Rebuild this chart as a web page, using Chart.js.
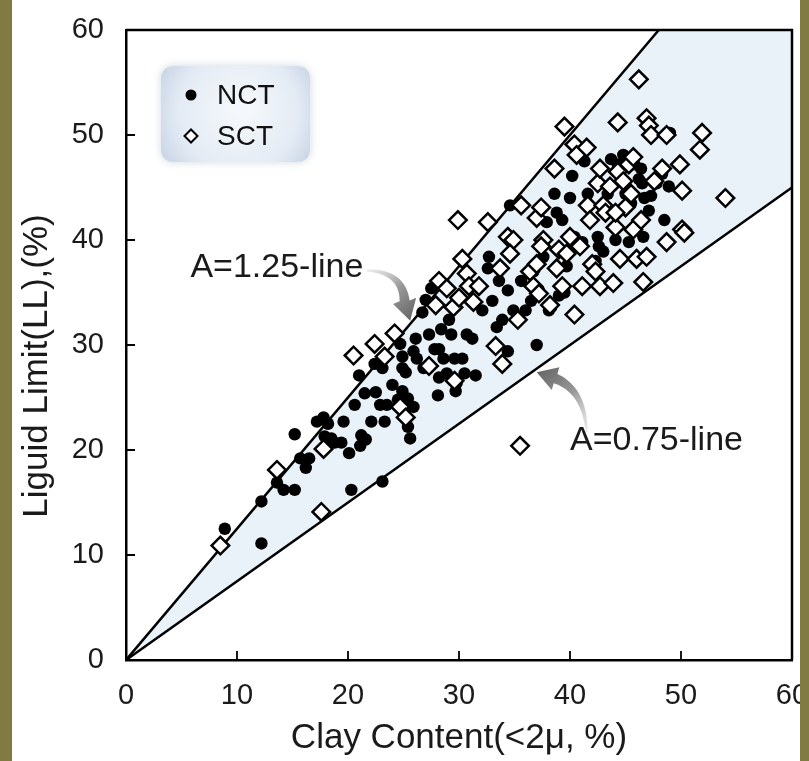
<!DOCTYPE html>
<html><head><meta charset="utf-8">
<script src="https://cdn.jsdelivr.net/npm/chart.js@4.4.1/dist/chart.umd.min.js"></script>
<style>
html,body{margin:0;padding:0;width:809px;height:761px;overflow:hidden;background:#807b42;}
#panel{position:absolute;left:12px;top:0;width:788px;height:761px;background:#ffffff;}
#c{position:absolute;left:0;top:0;width:809px;height:761px;}
#edgeR{position:absolute;left:800px;top:0;width:9px;height:761px;background:#807b42;}
#edgeL{position:absolute;left:0;top:0;width:12px;height:761px;background:#807b42;}
</style></head><body>
<div id="panel"></div>
<canvas id="c" width="809" height="761"></canvas>
<div id="edgeL"></div><div id="edgeR"></div>
<script>
// ---- data ----
const xTicks = [0, 10, 20, 30, 40, 50, 60];
const yTicks = [0, 10, 20, 30, 40, 50, 60];
const seriesNames = ['NCT', 'SCT'];
const lineLabels = ['A=1.25-line', 'A=0.75-line'];
const lineSlopes = [1.25, 0.75];
const xTitle = 'Clay Content(<2μ, %)';
const yTitle = 'Liguid Limit(LL),(%)';

const nctX = [8.9,12.2,12.2,13.6,14.2,15.2,15.2,15.7,16.2,16.5,
  17.2,17.8,17.9,18.2,18.5,18.8,19.4,19.6,20.1,20.3,
  20.6,21.0,21.2,21.6,21.1,21.5,22.1,22.4,22.5,23.1,
  23.3,23.1,22.9,23.5,24.0,24.7,24.9,24.5,24.9,25.2,
  25.4,25.6,25.9,25.4,24.9,25.9,26.1,26.7,27.0,27.3,
  27.5,27.8,26.2,26.8,28.1,28.2,28.2,28.4,28.6,28.9,
  29.1,29.3,29.6,29.7,29.8,30.3,30.7,31.2,30.5,31.5,
  32.1,32.6,32.7,33.0,33.4,33.9,33.6,34.4,34.4,34.6,
  34.9,35.3,35.6,36.0,36.5,37.0,36.7,37.2,37.6,37.9,
  38.1,38.3,38.6,38.8,39.0,39.3,39.5,39.7,40.0,40.2,
  40.4,41.1,41.3,41.6,42.3,42.5,42.6,43.0,43.4,43.7,
  43.9,44.1,44.3,44.8,45.0,45.3,45.5,45.8,46.2,46.4,
  46.6,46.7,47.1,47.8,48.3,48.5,48.9,49.0,46.5,47.3];
const nctY = [12.5,11.1,15.1,16.9,16.2,16.2,21.5,19.2,18.3,19.2,
  22.7,23.1,21.3,22.5,21.1,20.7,20.7,22.7,19.7,16.2,
  24.3,27.1,21.4,21.0,20.4,25.4,22.7,28.2,25.5,27.8,
  22.7,17.0,24.3,24.3,26.2,30.1,27.8,24.8,25.6,27.4,
  22.2,21.1,24.1,24.9,28.9,29.4,30.6,33.1,34.3,31.0,
  35.4,29.6,28.7,27.8,25.2,26.9,29.6,31.5,28.7,27.3,
  32.4,31.0,28.7,25.6,26.4,28.7,31.0,30.6,27.3,27.1,
  33.3,37.3,38.4,34.2,31.7,32.4,36.1,35.2,29.4,43.3,
  33.3,32.4,36.1,33.3,34.2,30.0,37.0,35.2,38.4,41.7,
  33.3,33.6,44.4,42.6,34.7,41.9,35.0,37.5,44.0,46.1,
  40.3,39.8,47.5,44.4,38.0,40.3,39.4,38.9,44.4,47.7,
  42.6,40.0,47.2,48.1,44.4,39.8,43.5,47.2,45.8,46.8,
  40.3,44.0,42.8,45.4,46.3,41.9,45.1,50.2,45.4,44.2];

const sctX = [8.5,13.6,17.6,17.8,20.5,22.4,23.3,24.2,24.7,25.2,
  27.3,27.9,28.2,28.9,29.5,29.6,29.9,30.3,30.0,30.7,
  30.9,31.3,31.8,32.6,33.3,33.9,34.4,34.9,34.6,33.7,
  35.6,35.3,35.5,36.4,36.7,37.0,37.2,37.0,37.4,37.6,
  37.4,38.2,38.6,38.8,39.0,39.3,39.5,39.7,40.0,40.4,
  40.4,40.6,40.9,41.1,41.5,41.6,41.8,42.0,42.3,42.5,
  42.7,42.7,43.0,43.2,43.6,43.9,44.1,44.3,44.3,44.5,
  45.0,45.3,45.5,45.7,46.0,46.2,46.4,46.6,46.9,46.9,
  47.1,47.3,47.6,48.3,48.7,48.7,49.9,50.1,50.1,50.3,
  51.7,51.9,54.0,44.1,45.7,44.8];
const sctY = [10.9,18.1,14.1,20.1,29.0,30.1,28.9,31.1,24.1,23.1,
  28.0,33.8,36.1,35.4,33.6,26.6,41.9,38.2,34.5,36.8,
  35.6,34.1,35.6,41.7,29.9,28.2,40.3,40.0,38.7,37.3,
  43.3,32.4,20.4,37.0,35.6,37.7,34.9,42.1,43.1,40.0,
  39.4,33.8,46.8,37.3,39.1,35.6,50.8,38.7,40.3,32.9,
  49.1,48.1,39.4,35.6,48.8,43.3,41.9,37.7,37.0,45.4,
  46.8,35.6,43.3,42.6,45.1,35.9,41.2,51.2,46.5,38.2,
  43.1,47.2,44.4,41.0,38.2,55.3,41.9,36.0,38.4,51.6,
  50.9,50.0,45.6,46.8,50.0,39.8,47.2,44.7,41.0,40.7,
  48.6,50.2,44.0,42.6,47.9,45.6];

// ---- derived tables ----
const xMin = xTicks[0], xMax = xTicks[xTicks.length - 1];
const yMin = yTicks[0], yMax = yTicks[yTicks.length - 1];
const toPts = (xs, ys) => xs.map((x, i) => ({x: x, y: ys[i]}));
const lineEnd = s => (s * xMax > yMax) ? {x: yMax / s, y: yMax} : {x: xMax, y: s * xMax};
const upperEnd = lineEnd(lineSlopes[0]);
const lowerEnd = lineEnd(lineSlopes[1]);
const bandShape = [{x: 0, y: 0}, upperEnd, {x: xMax, y: yMax}, lowerEnd, {x: 0, y: 0}];

const FONT = "'Liberation Sans', Arial, Helvetica, sans-serif";
const INK = '#1a1a1a';

function arrowShape(ctx, S, C, E, T, w0, w1, headW) {
  const n = 24, left = [], right = [];
  for (let i = 0; i <= n; i++) {
    const t = i / n, mt = 1 - t;
    const px = mt*mt*S.x + 2*mt*t*C.x + t*t*E.x;
    const py = mt*mt*S.y + 2*mt*t*C.y + t*t*E.y;
    let dx = 2*mt*(C.x - S.x) + 2*t*(E.x - C.x);
    let dy = 2*mt*(C.y - S.y) + 2*t*(E.y - C.y);
    const L = Math.hypot(dx, dy) || 1; dx /= L; dy /= L;
    const w = (w0 + (w1 - w0) * t) / 2;
    left.push([px - dy*w, py + dx*w]);
    right.push([px + dy*w, py - dx*w]);
  }
  let hx = T.x - E.x, hy = T.y - E.y;
  const HL = Math.hypot(hx, hy) || 1; hx /= HL; hy /= HL;
  const g = ctx.createLinearGradient(S.x, S.y, T.x, T.y);
  g.addColorStop(0, 'rgba(215,215,215,0.5)');
  g.addColorStop(0.5, '#9a9a9a');
  g.addColorStop(1, '#666666');
  ctx.beginPath();
  ctx.moveTo(left[0][0], left[0][1]);
  left.forEach(p => ctx.lineTo(p[0], p[1]));
  ctx.lineTo(E.x - hy*headW/2, E.y + hx*headW/2);
  ctx.lineTo(T.x, T.y);
  ctx.lineTo(E.x + hy*headW/2, E.y - hx*headW/2);
  for (let i = right.length - 1; i >= 0; i--) ctx.lineTo(right[i][0], right[i][1]);
  ctx.closePath();
  ctx.fillStyle = g;
  ctx.fill();
}

const decor = {
  id: 'decor',
  afterDraw(chart) {
    const {ctx, chartArea: a, scales: {x, y}} = chart;
    const P = (dx, dy) => ({x: x.getPixelForValue(dx), y: y.getPixelForValue(dy)});
    ctx.save();
    // frame top & right
    ctx.strokeStyle = '#000'; ctx.lineWidth = 2.5;
    ctx.beginPath();
    ctx.moveTo(a.left, a.top); ctx.lineTo(a.right, a.top); ctx.lineTo(a.right, a.bottom);
    ctx.stroke();
    // inward ticks
    ctx.lineWidth = 1.8;
    ctx.beginPath();
    xTicks.slice(1, -1).forEach(v => { const px = x.getPixelForValue(v); ctx.moveTo(px, a.bottom); ctx.lineTo(px, a.bottom - 9); });
    yTicks.slice(1, -1).forEach(v => { const py = y.getPixelForValue(v); ctx.moveTo(a.left, py); ctx.lineTo(a.left + 9, py); });
    ctx.stroke();

    // y axis title
    ctx.save();
    ctx.translate(37, y.getPixelForValue(28));
    ctx.rotate(-Math.PI / 2);
    ctx.fillStyle = INK; ctx.font = '35px ' + FONT;
    ctx.textAlign = 'center'; ctx.textBaseline = 'middle';
    ctx.fillText(yTitle, 0, 0);
    ctx.restore();

    // arrows
    arrowShape(ctx, P(21.7, 37.1), P(24.9, 37.0), P(25.1, 34.2), P(25.6, 32.3), 2, 10, 24);
    arrowShape(ctx, P(41.5, 21.7), P(41.3, 25.7), P(38.7, 26.8), P(37.0, 27.4), 2, 10, 24);

    // annotation labels
    ctx.fillStyle = INK;
    ctx.font = '34px ' + FONT;
    ctx.textBaseline = 'middle'; ctx.textAlign = 'left';
    const l1 = P(5.8, 37.4), l2 = P(40.0, 20.9);
    ctx.fillText(lineLabels[0], l1.x, l1.y);
    ctx.fillText(lineLabels[1], l2.x, l2.y);

    // legend box
    const bx = a.left + 35, by = a.top + 36, bw = 149, bh = 96, r = 14;
    ctx.save();
    ctx.shadowColor = 'rgba(120,140,170,0.35)'; ctx.shadowBlur = 8;
    const rg = ctx.createRadialGradient(bx + bw*0.55, by + bh*0.45, 10, bx + bw*0.5, by + bh*0.5, bw*0.62);
    rg.addColorStop(0, '#f4f7fb'); rg.addColorStop(0.6, '#e4ebf4'); rg.addColorStop(1, '#c3d0e2');
    ctx.fillStyle = rg;
    ctx.beginPath();
    ctx.moveTo(bx + r, by); ctx.lineTo(bx + bw - r, by); ctx.quadraticCurveTo(bx + bw, by, bx + bw, by + r);
    ctx.lineTo(bx + bw, by + bh - r); ctx.quadraticCurveTo(bx + bw, by + bh, bx + bw - r, by + bh);
    ctx.lineTo(bx + r, by + bh); ctx.quadraticCurveTo(bx, by + bh, bx, by + bh - r);
    ctx.lineTo(bx, by + r); ctx.quadraticCurveTo(bx, by, bx + r, by);
    ctx.closePath(); ctx.fill();
    ctx.restore();
    // legend entries
    ctx.fillStyle = '#000';
    ctx.beginPath(); ctx.arc(bx + 30, by + 29, 5.5, 0, Math.PI*2); ctx.fill();
    ctx.beginPath();
    const dx0 = bx + 30, dy0 = by + 70, s = 6.5;
    ctx.moveTo(dx0 - s, dy0); ctx.lineTo(dx0, dy0 - s); ctx.lineTo(dx0 + s, dy0); ctx.lineTo(dx0, dy0 + s); ctx.closePath();
    ctx.fillStyle = '#fff'; ctx.fill(); ctx.lineWidth = 2; ctx.strokeStyle = '#000'; ctx.stroke();
    ctx.fillStyle = '#111';
    ctx.font = '28px ' + FONT; ctx.textBaseline = 'middle';
    ctx.fillText(seriesNames[0], bx + 56, by + 30);
    ctx.fillText(seriesNames[1], bx + 56, by + 71);
    ctx.restore();
  }
};

new Chart(document.getElementById('c'), {
  type: 'scatter',
  data: {
    datasets: [
      {type: 'line', label: 'band', data: bandShape, fill: 'shape', backgroundColor: '#e8f2f8',
       borderColor: 'rgba(0,0,0,0)', borderWidth: 0, pointRadius: 0, tension: 0, order: 10},
      {type: 'line', label: lineLabels[0], data: [{x: 0, y: 0}, upperEnd], borderColor: '#000', borderWidth: 2.5,
       pointRadius: 0, fill: false, tension: 0, order: 5},
      {type: 'line', label: lineLabels[1], data: [{x: 0, y: 0}, lowerEnd], borderColor: '#000', borderWidth: 2.5,
       pointRadius: 0, fill: false, tension: 0, order: 5},
      {label: seriesNames[0], data: toPts(nctX, nctY), pointStyle: 'circle', pointRadius: 6.2,
       backgroundColor: '#000', borderColor: '#000', borderWidth: 0, order: 2},
      {label: seriesNames[1], data: toPts(sctX, sctY), pointStyle: 'rectRot', pointRadius: 8.8,
       backgroundColor: '#fff', borderColor: '#000', borderWidth: 2.5, order: 1}
    ]
  },
  options: {
    responsive: false, maintainAspectRatio: false, animation: false, devicePixelRatio: 1,
    layout: {padding: {left: 0, top: 30, right: 17, bottom: 0}},
    plugins: {legend: {display: false}, tooltip: {enabled: false}},
    scales: {
      x: {
        type: 'linear', min: xMin, max: xMax,
        afterBuildTicks: s => { s.ticks = xTicks.map(v => ({value: v})); },
        afterFit: s => { s.height = 101; s.paddingLeft = 0; s.paddingRight = 0; },
        grid: {display: false, drawTicks: false},
        border: {display: true, color: '#000', width: 2.5},
        ticks: {padding: 19, color: INK, font: {family: FONT, size: 29}},
        title: {display: true, text: xTitle, color: INK,
                font: {family: FONT, size: 35}, padding: {top: 0, bottom: 2}}
      },
      y: {
        type: 'linear', min: yMin, max: yMax,
        afterBuildTicks: s => { s.ticks = yTicks.map(v => ({value: v})); },
        afterFit: s => { s.width = 126; s.paddingTop = 0; s.paddingBottom = 0; },
        grid: {display: false, drawTicks: false},
        border: {display: true, color: '#000', width: 2.5},
        ticks: {padding: 22, color: INK, font: {family: FONT, size: 29}},
        title: {display: false, text: yTitle}
      }
    }
  },
  plugins: [decor]
});
</script>
</body></html>
